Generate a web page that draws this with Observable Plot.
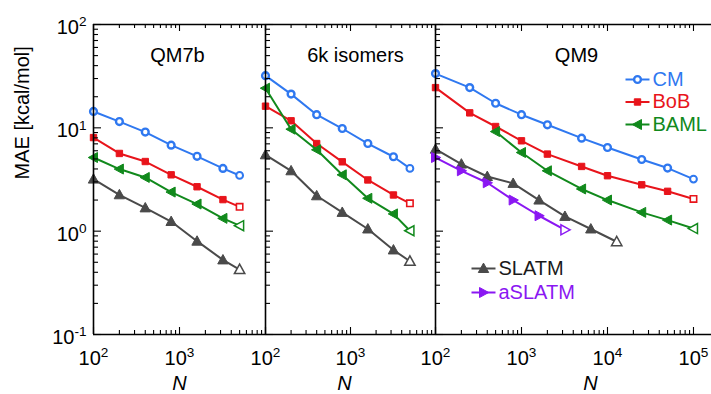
<!DOCTYPE html>
<html><head><meta charset="utf-8">
<script src="https://cdn.jsdelivr.net/npm/d3@7"></script>
<script src="https://cdn.jsdelivr.net/npm/@observablehq/plot@0.6"></script>
<style>
body{margin:0;background:#fff;}
#wrap{position:relative;width:711px;height:394px;overflow:hidden;font-family:"Liberation Sans",Arial,sans-serif;}
#wrap svg{position:absolute;top:0;}
</style></head><body><div id="wrap"></div>
<script>
// ---- data (training set size N, MAE in kcal/mol) ----
const nQM7b = [100, 200, 400, 800, 1600, 3200, 5000];
const qm7bCM    = [14.4, 11.5, 9.1, 6.8, 5.3, 4.05, 3.46];
const qm7bBoB   = [8.05, 5.65, 4.72, 3.51, 2.69, 2.02, 1.72];
const qm7bBAML  = [5.16, 3.99, 3.31, 2.39, 1.83, 1.33, 1.13];
const qm7bSLATM = [3.19, 2.25, 1.68, 1.24, 0.80, 0.527, 0.425];

const nIso = [100, 200, 400, 800, 1600, 3200, 5000];
const isoCM    = [32, 21.2, 13.4, 9.85, 7.05, 5.25, 4.05];
const isoBoB   = [16.2, 11.7, 7.05, 4.69, 3.13, 2.24, 1.86];
const isoBAML  = [24.2, 9.7, 6.13, 3.51, 2.08, 1.47, 1.01];
const isoSLATM = [5.48, 3.84, 2.20, 1.52, 1.05, 0.658, 0.511];

const nQM9CM = [100, 250, 500, 1000, 2000, 5000, 10000, 25000, 50000, 100000];
const qm9CM  = [33.5, 24.5, 17.3, 13.4, 10.7, 7.95, 6.45, 4.94, 4.08, 3.19];
const qm9BoB = [24.5, 13.96, 10.3, 7.49, 5.57, 4.23, 3.44, 2.81, 2.43, 2.05];
const nQM9BAML = [500, 1000, 2000, 5000, 10000, 25000, 50000, 100000];
const qm9BAML  = [9.2, 5.77, 3.84, 2.56, 2.0, 1.52, 1.28, 1.06];
const nQM9SLATM = [100, 200, 400, 800, 1600, 3200, 6400, 12800];
const qm9SLATM  = [6.22, 4.46, 3.38, 2.90, 2.0, 1.39, 1.05, 0.79];
const nQM9aSLATM = [100, 200, 400, 800, 1600, 3200];
const qm9aSLATM  = [5.16, 3.84, 2.94, 2.0, 1.41, 1.03];

const panelTitles = ["QM7b", "6k isomers", "QM9"];
const legendTop = ["CM", "BoB", "BAML"];
const legendBottom = ["SLATM", "aSLATM"];
const yTickLabels = [0.1, 1, 10, 100];
const xTickLabels12 = [100, 1000];
const xTickLabels3 = [100, 1000, 10000, 100000];
const yTitle = "MAE [kcal/mol]";
const xTitle = "N";

// ---- styles ----
const C = {CM: "#2f78f0", BoB: "#e8141b", BAML: "#11891c", SLATM: "#4a4a4a", aSLATM: "#8a17f2"};
const triLeft = {draw(ctx, size){const r=Math.sqrt(size/Math.PI); ctx.moveTo(-1.3*r,0); ctx.lineTo(1.0*r,-1.25*r); ctx.lineTo(1.0*r,1.25*r); ctx.closePath();}};
const triRight = {draw(ctx, size){const r=Math.sqrt(size/Math.PI); ctx.moveTo(1.3*r,0); ctx.lineTo(-1.0*r,-1.25*r); ctx.lineTo(-1.0*r,1.25*r); ctx.closePath();}};
const triUp = {draw(ctx, size){const r=Math.sqrt(size/Math.PI); ctx.moveTo(0,-1.35*r); ctx.lineTo(1.3*r,1.0*r); ctx.lineTo(-1.3*r,1.0*r); ctx.closePath();}};
const legendLine = {draw(ctx){ctx.moveTo(-12,0); ctx.lineTo(12,0);}};
const STY = {
  CM:     {symbol: "circle", r: 3.4, fill: "white",    sw: 2.4, lastSw: 2},
  BoB:    {symbol: "square", r: 3.6, fill: C.BoB,      sw: 1,   lastSw: 1.6},
  BAML:   {symbol: triLeft,  r: 4,   fill: C.BAML,     sw: 1,   lastSw: 1.5},
  SLATM:  {symbol: triUp,    r: 4,   fill: C.SLATM,    sw: 1,   lastSw: 1.5},
  aSLATM: {symbol: triRight, r: 4,   fill: C.aSLATM,   sw: 1,   lastSw: 1.5}
};
const FONT = 20;
const H = 394, MT = 24, MB = 60, innerH = H - MT - MB;
const yDomain = [0.1, 100];

function seriesMarks(name, n, mae) {
  const s = STY[name], col = C[name];
  const rows = n.map((x, i) => ({x, y: mae[i], last: i === n.length - 1}));
  return [
    Plot.line(rows, {x: "x", y: "y", stroke: col, strokeWidth: 2}),
    Plot.dot(rows.filter(d => !d.last), {x: "x", y: "y", symbol: s.symbol, r: s.r, fill: s.fill, stroke: col, strokeWidth: s.sw}),
    Plot.dot(rows.filter(d => d.last), {x: "x", y: "y", symbol: s.symbol, r: s.r, fill: "white", stroke: col, strokeWidth: s.lastSw})
  ];
}

function minorTicks(domain) {
  const out = [];
  for (let e = -2; e <= 6; e++) for (let k = 2; k <= 9; k++) {
    const v = k * Math.pow(10, e);
    if (v > domain[0] && v < domain[1]) out.push(v);
  }
  return out;
}
function majorTicks(domain) {
  const out = [];
  for (let e = -2; e <= 6; e++) { const v = Math.pow(10, e); if (v >= domain[0] * 0.999 && v <= domain[1] * 1.001) out.push(v); }
  return out;
}
const expLabel = d => "10^" + Math.round(Math.log10(d));

function frameMarks(xDomain, innerW) {
  const ax = {stroke: "black", strokeWidth: 1.6};
  const tk = {stroke: "black", strokeWidth: 1.1};
  const xm = majorTicks(xDomain), xn = minorTicks(xDomain);
  const ym = majorTicks(yDomain), yn = minorTicks(yDomain);
  return [
    Plot.ruleX(xm, {x: d => d, insetBottom: innerH - 7, ...tk}),
    Plot.ruleX(xn, {x: d => d, insetBottom: innerH - 4, ...tk}),
    Plot.ruleX(xm, {x: d => d, insetTop: innerH - 7, ...tk}),
    Plot.ruleX(xn, {x: d => d, insetTop: innerH - 4, ...tk}),
    Plot.ruleY(ym, {y: d => d, insetRight: innerW - 8, ...tk}),
    Plot.ruleY(yn, {y: d => d, insetRight: innerW - 5, ...tk}),
    Plot.ruleY([yDomain[0]], {y: d => d, ...ax}),
    Plot.ruleY([yDomain[1]], {y: d => d, ...ax}),
    Plot.ruleX([xDomain[0]], {x: d => d, ...ax})
  ];
}

const TXT = {fontSize: FONT, fill: "black", lineAnchor: "middle"};

function makePanel({left, width, ml, mr, xDomain, series, title, titleDx, xLabels, nDx, extra = []}) {
  const innerW = width - ml - mr;
  const marks = [
    ...series.flatMap(([name, n, mae]) => seriesMarks(name, n, mae)),
    ...frameMarks(xDomain, innerW),
    Plot.text([title], {frameAnchor: "top", dx: titleDx, dy: 31, text: d => d, ...TXT}),
    Plot.text(xLabels, {x: d => d, frameAnchor: "bottom", dy: 24, text: expLabel, ...TXT}),
    Plot.text([xTitle], {frameAnchor: "bottom", dx: nDx, dy: 49, text: d => d, fontStyle: "italic", ...TXT}),
    ...extra
  ];
  const svg = Plot.plot({
    width, height: H, marginLeft: ml, marginRight: mr, marginTop: MT, marginBottom: MB,
    x: {type: "log", domain: xDomain, axis: null},
    y: {type: "log", domain: yDomain, axis: null},
    style: {background: "transparent", fontFamily: "'Liberation Sans', Arial, sans-serif", overflow: "visible"},
    marks
  });
  svg.style.left = left + "px";
  svg.style.maxWidth = "none";
  svg.querySelectorAll("text").forEach(t => {
    const m = t.textContent.match(/^10\^(-?\d+)$/);
    if (m) {
      t.textContent = "10";
      const ts = document.createElementNS("http://www.w3.org/2000/svg", "tspan");
      ts.setAttribute("dy", "-0.55em");
      ts.setAttribute("font-size", "0.68em");
      ts.textContent = m[1];
      t.appendChild(ts);
    }
  });
  document.getElementById("wrap").appendChild(svg);
}

// Panel 1: QM7b
makePanel({
  left: 0, width: 270, ml: 93, mr: 5, xDomain: [100, 10000],
  series: [["CM", nQM7b, qm7bCM], ["BoB", nQM7b, qm7bBoB], ["BAML", nQM7b, qm7bBAML], ["SLATM", nQM7b, qm7bSLATM]],
  title: panelTitles[0], titleDx: -2, xLabels: xTickLabels12, nDx: 0,
  extra: [
    Plot.text(yTickLabels, {y: d => d, frameAnchor: "left", dx: -7, dy: 3, textAnchor: "end", text: expLabel, ...TXT}),
    Plot.text([yTitle], {frameAnchor: "left", dx: -71, rotate: -90, text: d => d, ...TXT})
  ]
});

// Panel 2: 6k isomers
makePanel({
  left: 255, width: 185, ml: 10, mr: 5, xDomain: [100, 10000],
  series: [["CM", nIso, isoCM], ["BoB", nIso, isoBoB], ["BAML", nIso, isoBAML], ["SLATM", nIso, isoSLATM]],
  title: panelTitles[1], titleDx: 5, xLabels: xTickLabels12, nDx: -6
});

// Panel 3: QM9 with legends
const legTop = legendTop.map((name, i) => ({name, dy: 55 + i * 22.5}));
const legBot = legendBottom.map((name, i) => ({name, dy: 244 + i * 24}));
function legendMarks(rows, lineDx, textDx, textFill) {
  return rows.flatMap(({name, dy}) => [
    Plot.dot([name], {frameAnchor: "top-left", dx: lineDx, dy, symbol: legendLine, stroke: C[name], strokeWidth: 2, fill: "none"}),
    Plot.dot([name], {frameAnchor: "top-left", dx: lineDx, dy, symbol: STY[name].symbol, r: STY[name].r, fill: STY[name].fill, stroke: C[name], strokeWidth: STY[name].sw}),
    Plot.text([name], {frameAnchor: "top-left", dx: textDx, dy, text: d => d, textAnchor: "start", ...TXT, fill: textFill ? textFill(name) : C[name]})
  ]);
}
makePanel({
  left: 425, width: 286, ml: 10, mr: 0, xDomain: [100, 162000],
  series: [["CM", nQM9CM, qm9CM], ["BoB", nQM9CM, qm9BoB], ["BAML", nQM9BAML, qm9BAML], ["SLATM", nQM9SLATM, qm9SLATM], ["aSLATM", nQM9aSLATM, qm9aSLATM]],
  title: panelTitles[2], titleDx: 3, xLabels: xTickLabels3, nDx: 17,
  extra: [
    ...legendMarks(legTop, 202, 217),
    ...legendMarks(legBot, 48, 63, n => n === "SLATM" ? "#1a1a1a" : C[n])
  ]
});
</script></body></html>
